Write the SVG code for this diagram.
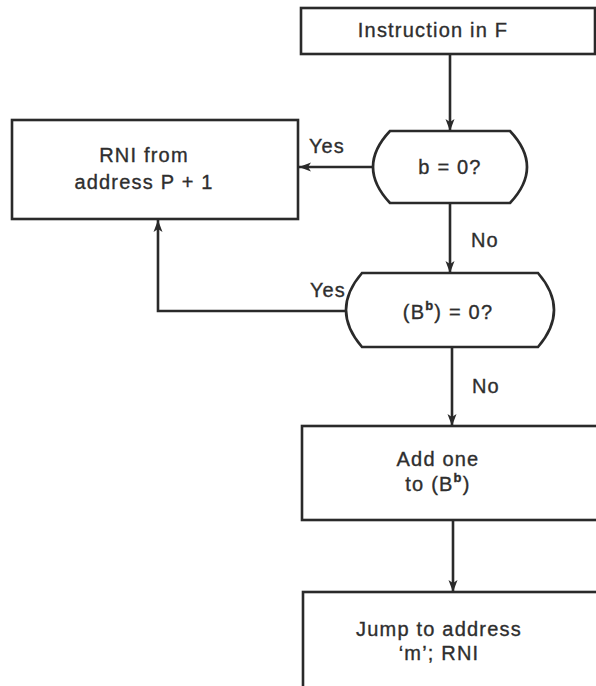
<svg xmlns="http://www.w3.org/2000/svg" width="596" height="686" viewBox="0 0 596 686">
<style>
.box{fill:#fff;stroke:#2a2a2a;stroke-width:2.6}
.ln{fill:none;stroke:#2a2a2a;stroke-width:2.6}
.t{font-family:"Liberation Sans",Arial,sans-serif;font-size:20px;fill:#2e2e2e;stroke:#2e2e2e;stroke-width:0.35;text-anchor:middle;letter-spacing:1.2px}
.l{font-family:"Liberation Sans",Arial,sans-serif;font-size:20px;fill:#2e2e2e;stroke:#2e2e2e;stroke-width:0.35;letter-spacing:1px}
.sup{font-size:13px;font-weight:bold}
</style>
<defs>
<marker id="ah" viewBox="0 0 12 10" refX="12" refY="5" markerWidth="12" markerHeight="10" markerUnits="userSpaceOnUse" orient="auto">
<path d="M0,0.5 L12,5 L0,9.5 L3,5 Z" fill="#2a2a2a"/>
</marker>
</defs>
<rect width="596" height="686" fill="#fff"/>
<g id="connectors">
<path class="ln" d="M450,54 L450,131" marker-end="url(#ah)"/>
<path class="ln" d="M375,167 L299,167" marker-end="url(#ah)"/>
<path class="ln" d="M450,203 L450,273" marker-end="url(#ah)"/>
<path class="ln" d="M347,311 L158,311 L158,220" marker-end="url(#ah)"/>
<path class="ln" d="M452,347 L452,426" marker-end="url(#ah)"/>
<path class="ln" d="M453,520 L453,592" marker-end="url(#ah)"/>
<text class="l" x="309" y="153">Yes</text>
<text class="l" x="471" y="247">No</text>
<text class="l" x="310" y="297">Yes</text>
<text class="l" x="472" y="393">No</text>
</g>
<g id="start">
<rect class="box" x="301" y="8" width="294" height="46"/>
<text class="t" x="433" y="37">Instruction in F</text>
</g>
<g id="dec1">
<path class="box" d="M390,131 L510,131 Q544,167 510,203 L390,203 Q356,167 390,131 Z"/>
<text class="t" x="450" y="174">b = 0?</text>
</g>
<g id="rni">
<rect class="box" x="12" y="120" width="286" height="99"/>
<text class="t" x="144" y="162">RNI from</text>
<text class="t" x="144" y="189">address P + 1</text>
</g>
<g id="dec2">
<path class="box" d="M362,273 L538,273 Q570,310 538,347 L362,347 Q330,310 362,273 Z"/>
<text class="t" x="448" y="319">(B<tspan class="sup" dy="-9">b</tspan><tspan dy="9">) = 0?</tspan></text>
</g>
<g id="add">
<rect class="box" x="302" y="426" width="300" height="94"/>
<text class="t" x="438" y="466">Add one</text>
<text class="t" x="438" y="491">to (B<tspan class="sup" dy="-9">b</tspan><tspan dy="9">)</tspan></text>
</g>
<g id="jump">
<rect class="box" x="303" y="592" width="300" height="100"/>
<text class="t" x="439" y="636">Jump to address</text>
<text class="t" x="439" y="660">‘m’; RNI</text>
</g>
</svg>
